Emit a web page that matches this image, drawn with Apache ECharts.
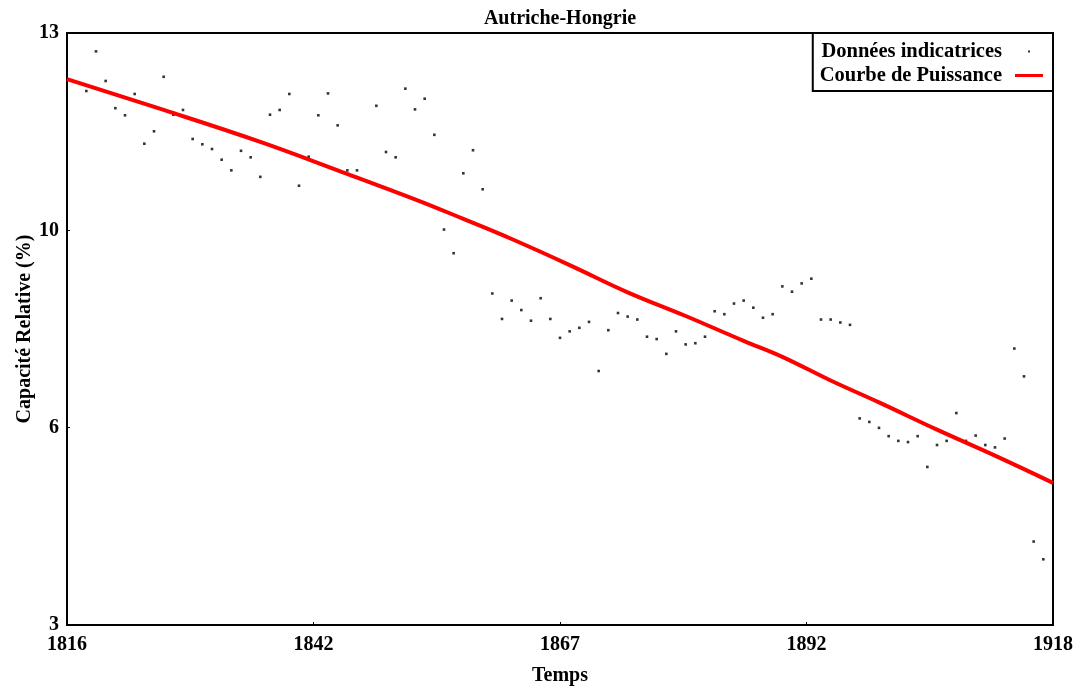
<!DOCTYPE html>
<html><head><meta charset="utf-8">
<script src="https://cdn.jsdelivr.net/npm/echarts@6/dist/echarts.min.js"></script>
<style>html,body{margin:0;padding:0;background:#fff}#c{width:1084px;height:690px}</style>
</head><body><div id="c"></div>
<script>
const chartTitle = 'Autriche-Hongrie';
const xName = 'Temps';
const yName = 'Capacité Relative (%)';
const seriesNames = ['Données indicatrices', 'Courbe de Puissance'];

const pointYears = [1818,1819,1820,1821,1822,1823,1824,1825,1826,1827,1828,1829,1830,1831,1832,1833,1834,1835,1836,1837,1838,1839,1840,1841,1842,1843,1844,1845,1846,1848,1849,1850,1851,1852,1853,1854,1855,1856,1857,1858,1859,1860,1861,1862,1863,1864,1865,1866,1867,1868,1869,1870,1871,1872,1873,1874,1875,1876,1877,1878,1879,1880,1881,1882,1883,1884,1885,1886,1887,1888,1889,1890,1891,1892,1893,1894,1895,1896,1897,1898,1899,1900,1901,1902,1903,1904,1905,1906,1907,1908,1909,1910,1911,1912,1913,1914,1915,1916,1917];
const pointValues = [12.02,12.69,12.19,11.73,11.61,11.97,11.13,11.34,12.26,11.62,11.70,11.21,11.12,11.04,10.86,10.68,11.01,10.90,10.57,11.62,11.70,11.97,10.42,10.91,11.61,11.98,11.44,10.68,10.68,11.77,10.99,10.90,12.06,11.71,11.89,11.28,9.68,9.28,10.63,11.02,10.36,8.60,8.17,8.48,8.32,8.14,8.52,8.17,7.85,7.96,8.02,8.12,7.29,7.98,8.27,8.21,8.16,7.87,7.83,7.58,7.96,7.74,7.76,7.87,8.30,8.25,8.43,8.48,8.36,8.19,8.25,8.72,8.63,8.77,8.85,8.16,8.16,8.11,8.07,6.49,6.43,6.33,6.19,6.11,6.09,6.19,5.67,6.04,6.11,6.58,6.11,6.20,6.04,6.00,6.15,7.67,7.20,4.41,4.11];

const curveYears = [1816,1826,1836,1844,1852,1857,1862,1868,1874,1880,1886,1890,1895,1900,1906,1912,1918];
const curveValues = [12.22,11.70,11.16,10.68,10.19,9.86,9.52,9.08,8.62,8.22,7.80,7.53,7.13,6.76,6.30,5.86,5.40];

const xTickValues = [1816, 1841.5, 1867, 1892.5, 1918];
const xTickLabels = ['1816', '1842', '1867', '1892', '1918'];
const yTickValues = [3, 6.3333333, 9.6666667, 13];
const yTickLabels = ['3', '6', '10', '13'];

function lookup(vals, labels) {
  return function (v) {
    for (let i = 0; i < vals.length; i++) if (Math.abs(vals[i] - v) < 0.01) return labels[i];
    return '';
  };
}

const FONT = 'Liberation Serif';
const chart = echarts.init(document.getElementById('c'), null, {renderer: 'canvas'});
chart.setOption({
  animation: false,
  backgroundColor: '#fff',
  title: {
    text: chartTitle, left: 555, top: 4, textAlign: 'center',
    textStyle: {fontFamily: FONT, fontWeight: 'bold', fontSize: 20, color: '#000'}
  },
  grid: {left: 67, right: 31, top: 33, bottom: 65, show: true, borderColor: '#000', borderWidth: 2,
    backgroundColor: 'transparent', containLabel: false, outerBoundsMode: 'none'},
  legend: {
    orient: 'vertical', right: 31, top: 33, align: 'right',
    borderColor: '#000', borderWidth: 2, backgroundColor: '#fff',
    padding: [8, 10, 5, 7], itemGap: 3, itemWidth: 36, itemHeight: 12,
    textStyle: {fontFamily: FONT, fontWeight: 'bold', fontSize: 20.5, color: '#000', lineHeight: 18},
    data: [
      {name: seriesNames[0], icon: 'path://M0,0M36,0M36,12M0,12M21,5h2v2h-2z', itemStyle: {color: '#000'}},
      {name: seriesNames[1], icon: 'path://M0,0M36,0M36,12M0,12M8,4.5h28v3h-28z', itemStyle: {color: '#ff0000'}}
    ]
  },
  xAxis: {
    type: 'value', min: 1816, max: 1918,
    name: xName, nameLocation: 'middle', nameGap: 41,
    nameTextStyle: {fontFamily: FONT, fontWeight: 'bold', fontSize: 20, color: '#000'},
    axisLine: {show: true, onZero: false, lineStyle: {color: '#000', width: 2}},
    axisTick: {show: true, inside: true, length: 3, customValues: xTickValues, lineStyle: {color: '#000'}},
    axisLabel: {customValues: xTickValues, formatter: lookup(xTickValues, xTickLabels), margin: 10,
      fontFamily: FONT, fontWeight: 'bold', fontSize: 20, color: '#000'},
    splitLine: {show: false}
  },
  yAxis: {
    type: 'value', min: 3, max: 13,
    name: yName, nameLocation: 'middle', nameGap: 32, nameRotate: 90, nameMoveOverlap: false,
    nameTextStyle: {fontFamily: FONT, fontWeight: 'bold', fontSize: 20, color: '#000'},
    axisLine: {show: true, onZero: false, lineStyle: {color: '#000', width: 2}},
    axisTick: {show: true, inside: true, length: 3, customValues: yTickValues, lineStyle: {color: '#000'}},
    axisLabel: {customValues: yTickValues, formatter: lookup(yTickValues, yTickLabels), margin: 8,
      fontFamily: FONT, fontWeight: 'bold', fontSize: 20, color: '#000'},
    splitLine: {show: false}
  },
  series: [
    {
      name: seriesNames[0], type: 'scatter', symbol: 'rect', symbolSize: 2.6,
      itemStyle: {color: '#000'},
      data: pointYears.map((y, i) => [y, pointValues[i]]),
      z: 2
    },
    {
      name: seriesNames[1], type: 'line', smooth: 0.4, showSymbol: false, symbol: 'none',
      lineStyle: {color: '#ff0000', width: 4},
      itemStyle: {color: '#ff0000'},
      data: curveYears.map((y, i) => [y, curveValues[i]]),
      z: 3
    }
  ]
});
</script>
</body></html>
